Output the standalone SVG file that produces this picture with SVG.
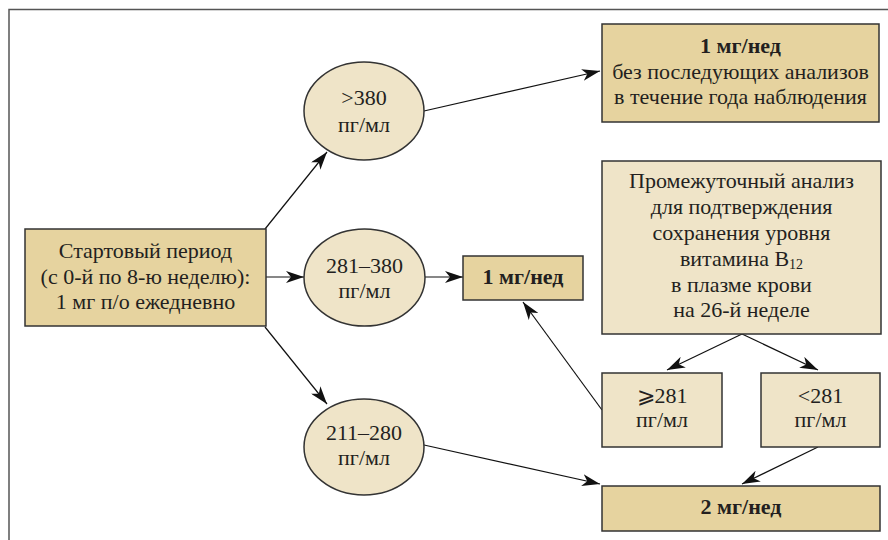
<svg xmlns="http://www.w3.org/2000/svg" width="888" height="540" viewBox="0 0 888 540">
<defs>
<marker id="ah" viewBox="0 0 18 12" markerWidth="18" markerHeight="12" refX="18" refY="6" orient="auto" markerUnits="userSpaceOnUse">
<path d="M0,0 L18,6 L0,12 L5,6 Z" fill="#111"/>
</marker>
<style>
.dark{fill:#e6d39f;stroke:#333;stroke-width:1.5}
.light{fill:#efe4c8;stroke:#333;stroke-width:1.5}
.t{font-family:"Liberation Serif","Times New Roman",serif;font-size:22px;fill:#231f20;text-anchor:middle}
.b{font-weight:bold}
.c{stroke:#111;stroke-width:1.2;fill:none;marker-end:url(#ah)}
</style>
</defs>
<rect width="888" height="540" fill="#fff"/>
<path d="M9,540 V9.5 H888" fill="none" stroke="#555" stroke-width="1.5"/>

<g id="connectors">
<line class="c" x1="265" y1="229" x2="327" y2="152"/>
<line class="c" x1="266" y1="277" x2="304" y2="277"/>
<line class="c" x1="265" y1="327" x2="327" y2="404"/>
<line class="c" x1="424" y1="111" x2="600" y2="71"/>
<line class="c" x1="425" y1="277" x2="463" y2="277"/>
<line class="c" x1="424" y1="445" x2="600" y2="484"/>
<line class="c" x1="742" y1="334" x2="667" y2="370"/>
<line class="c" x1="742" y1="334" x2="818" y2="370"/>
<line class="c" x1="818" y1="447" x2="742" y2="484"/>
<line class="c" x1="602" y1="410" x2="523" y2="302"/>
</g>

<g id="start">
<rect class="dark" x="25" y="229" width="241" height="97"/>
<text class="t" x="145.5" y="258">Стартовый период</text>
<text class="t" x="145.5" y="284">(с 0-й по 8-ю неделю):</text>
<text class="t" x="145.5" y="309">1 мг п/о ежедневно</text>
</g>

<g id="e380">
<ellipse class="light" cx="364" cy="111" rx="60" ry="49"/>
<text class="t" x="364" y="105">&gt;380</text>
<text class="t" x="364" y="132">пг/мл</text>
</g>

<g id="e281">
<ellipse class="light" cx="364.5" cy="277.5" rx="60.5" ry="48.5"/>
<text class="t" x="364.5" y="273">281–380</text>
<text class="t" x="364.5" y="298">пг/мл</text>
</g>

<g id="e211">
<ellipse class="light" cx="364" cy="447" rx="60" ry="48"/>
<text class="t" x="364" y="440">211–280</text>
<text class="t" x="364" y="465">пг/мл</text>
</g>

<g id="top">
<rect class="dark" x="602" y="24" width="277" height="98"/>
<text class="t b" x="740.5" y="53">1 мг/нед</text>
<text class="t" x="740.5" y="79">без последующих анализов</text>
<text class="t" x="740.5" y="104">в течение года наблюдения</text>
</g>

<g id="mid">
<rect class="dark" x="463" y="256" width="120" height="44"/>
<text class="t b" x="523" y="284">1 мг/нед</text>
</g>

<g id="interim">
<rect class="light" x="602" y="161" width="279" height="173"/>
<text class="t" x="741.5" y="188">Промежуточный анализ</text>
<text class="t" x="741.5" y="214">для подтверждения</text>
<text class="t" x="741.5" y="240">сохранения уровня</text>
<text class="t" x="741.5" y="266">витамина B<tspan font-size="14" dy="3">12</tspan></text>
<text class="t" x="741.5" y="292">в плазме крови</text>
<text class="t" x="741.5" y="317">на 26-й неделе</text>
</g>

<g id="ge281">
<rect class="light" x="602" y="373" width="120" height="74"/>
<text class="t" x="662" y="403">⩾281</text>
<text class="t" x="662" y="427">пг/мл</text>
</g>

<g id="lt281">
<rect class="light" x="761" y="373" width="119" height="74"/>
<text class="t" x="820.5" y="403">&lt;281</text>
<text class="t" x="820.5" y="427">пг/мл</text>
</g>

<g id="two">
<rect class="dark" x="602" y="486" width="278" height="45"/>
<text class="t b" x="741" y="514">2 мг/нед</text>
</g>
</svg>
